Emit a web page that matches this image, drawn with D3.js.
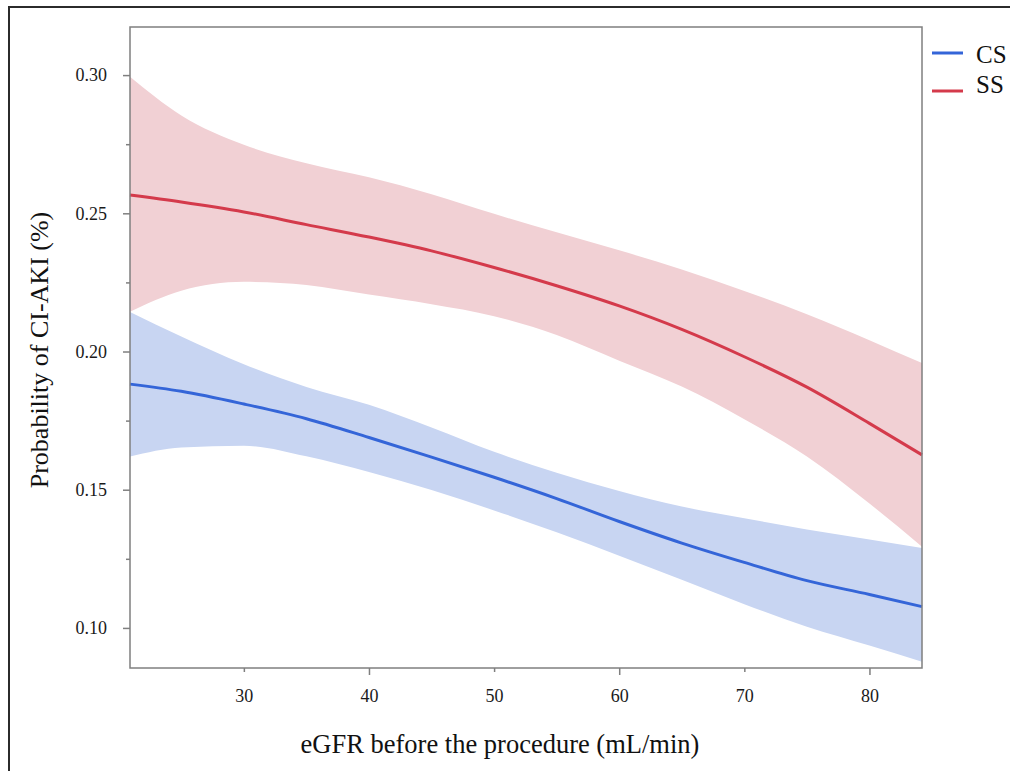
<!DOCTYPE html>
<html>
<head>
<meta charset="utf-8">
<script src="https://cdn.jsdelivr.net/npm/d3@7"></script>
<style>
  body { margin: 0; background: #fff; }
  svg { display: block; font-family: 'Liberation Serif', 'Times New Roman', serif; }
</style>
</head>
<body>
<div id="chart"></div>
<script>
// eGFR grid and fitted probabilities
let egfr = [20.9, 25, 30, 35, 40, 45, 50, 55, 60, 65, 70, 75, 80, 84.2]

let csFit = [0.1882, 0.1856, 0.1810, 0.1757, 0.1689, 0.1618, 0.1545, 0.1468, 0.1385, 0.1307, 0.1237, 0.1171, 0.1121, 0.1077]
let csUpper = [0.2143, 0.2054, 0.1954, 0.1872, 0.1807, 0.1725, 0.1637, 0.1561, 0.1495, 0.1439, 0.1397, 0.1356, 0.1320, 0.1289]
let csLower = [0.1620, 0.1653, 0.1659, 0.1621, 0.1564, 0.1499, 0.1425, 0.1346, 0.1261, 0.1174, 0.1086, 0.1004, 0.0936, 0.0878]

let ssFit = [0.2566, 0.2541, 0.2505, 0.2459, 0.2414, 0.2364, 0.2304, 0.2238, 0.2165, 0.2080, 0.1981, 0.1871, 0.1740, 0.1626]
let ssUpper = [0.2994, 0.2854, 0.2748, 0.2681, 0.2630, 0.2569, 0.2498, 0.2431, 0.2366, 0.2297, 0.2219, 0.2135, 0.2041, 0.1958]
let ssLower = [0.2144, 0.2220, 0.2252, 0.2241, 0.2206, 0.2171, 0.2128, 0.2060, 0.1967, 0.1873, 0.1755, 0.1620, 0.1450, 0.1294]

let xTicks = [30, 40, 50, 60, 70, 80]
let yTicks = [0.10, 0.15, 0.20, 0.25, 0.30]
let yMinorTicks = [0.125, 0.175, 0.225, 0.275]

let groups = ['CS', 'SS']

let margin = { top: 27, left: 130, right: 88, bottom: 103 }
let width = 1010 - margin.left - margin.right
let height = 771 - margin.top - margin.bottom

let outer = d3
  .select('#chart')
  .append('svg')
  .attr('width', 1010)
  .attr('height', 771)

// frame around the whole figure (runs off the right and bottom edge)
outer
  .append('rect')
  .attr('x', 9)
  .attr('y', 7)
  .attr('width', 1100)
  .attr('height', 900)
  .attr('fill', 'none')
  .attr('stroke', '#2b2b2b')
  .attr('stroke-width', 2)

let svg = outer
  .append('g')
  .attr('transform', 'translate(' + margin.left + ',' + margin.top + ')')

let xPositionScale = d3.scaleLinear().domain([20.9, 84.2]).range([0, width])
let yPositionScale = d3.scaleLinear().domain([0.0855, 0.3174]).range([height, 0])

let colorScale = d3.scaleOrdinal().domain(groups).range(['#3465d8', '#d43a4b'])
let bandScale = d3.scaleOrdinal().domain(groups).range(['#c8d5f2', '#f1d0d4'])

let series = [
  { key: 'SS', fit: ssFit, upper: ssUpper, lower: ssLower },
  { key: 'CS', fit: csFit, upper: csUpper, lower: csLower }
]

let area = d3
  .area()
  .x((d, i) => xPositionScale(egfr[i]))
  .y0(d => yPositionScale(d[0]))
  .y1(d => yPositionScale(d[1]))
  .curve(d3.curveMonotoneX)

let line = d3
  .line()
  .x((d, i) => xPositionScale(egfr[i]))
  .y(d => yPositionScale(d))
  .curve(d3.curveMonotoneX)

svg
  .selectAll('.band')
  .data(series)
  .enter()
  .append('path')
  .attr('class', 'band')
  .attr('d', d => area(d.lower.map((v, i) => [v, d.upper[i]])))
  .attr('fill', d => bandScale(d.key))

svg
  .selectAll('.fit')
  .data(series)
  .enter()
  .append('path')
  .attr('class', 'fit')
  .attr('d', d => line(d.fit))
  .attr('fill', 'none')
  .attr('stroke', d => colorScale(d.key))
  .attr('stroke-width', 3)

// plot box
svg
  .append('rect')
  .attr('width', width)
  .attr('height', height)
  .attr('fill', 'none')
  .attr('stroke', '#7f7f7f')
  .attr('stroke-width', 1.5)

let xAxis = d3
  .axisBottom(xPositionScale)
  .tickValues(xTicks)
  .tickSize(7)
  .tickSizeOuter(0)
  .tickPadding(14)
  .tickFormat(d3.format('d'))
let xAxisG = svg
  .append('g')
  .attr('class', 'axis x-axis')
  .attr('transform', 'translate(0,' + height + ')')
  .call(xAxis)
xAxisG
  .selectAll('.tick line')
  .filter(d => d % 20 !== 0)
  .attr('y2', 4)

let yAxis = d3
  .axisLeft(yPositionScale)
  .tickValues(yTicks)
  .tickSize(7)
  .tickSizeOuter(0)
  .tickPadding(16)
  .tickFormat(d3.format('.2f'))
svg
  .append('g')
  .attr('class', 'axis y-axis')
  .call(yAxis)

let yMinor = d3
  .axisLeft(yPositionScale)
  .tickValues(yMinorTicks)
  .tickSize(4)
  .tickSizeOuter(0)
  .tickFormat('')
svg
  .append('g')
  .attr('class', 'axis y-minor')
  .call(yMinor)

svg.selectAll('.axis .domain').remove()
svg
  .selectAll('.axis .tick line')
  .attr('stroke', '#7f7f7f')
  .attr('stroke-width', 1.5)
svg
  .selectAll('.axis text')
  .attr('font-family', "'Liberation Serif', 'Times New Roman', serif")
  .attr('font-size', 18)
  .attr('fill', '#1a1a1a')

// axis titles
outer
  .append('text')
  .attr('x', 500)
  .attr('y', 753)
  .attr('text-anchor', 'middle')
  .attr('font-size', 26.5)
  .attr('fill', '#111')
  .text('eGFR before the procedure (mL/min)')

outer
  .append('text')
  .attr('transform', 'translate(48,350) rotate(-90)')
  .attr('text-anchor', 'middle')
  .attr('font-size', 26)
  .attr('fill', '#111')
  .text('Probability of CI-AKI (%)')

// legend
let legendLineY = [53, 91]
let legendTextY = [63, 93]
let legend = outer
  .selectAll('.legend')
  .data(groups)
  .enter()
  .append('g')
  .attr('class', 'legend')

legend
  .append('line')
  .attr('x1', 932)
  .attr('x2', 963)
  .attr('y1', (d, i) => legendLineY[i])
  .attr('y2', (d, i) => legendLineY[i])
  .attr('stroke', d => colorScale(d))
  .attr('stroke-width', 3)

legend
  .append('text')
  .attr('x', 976)
  .attr('y', (d, i) => legendTextY[i])
  .attr('font-size', 25)
  .attr('fill', '#111')
  .text(d => d)
</script>
</body>
</html>
